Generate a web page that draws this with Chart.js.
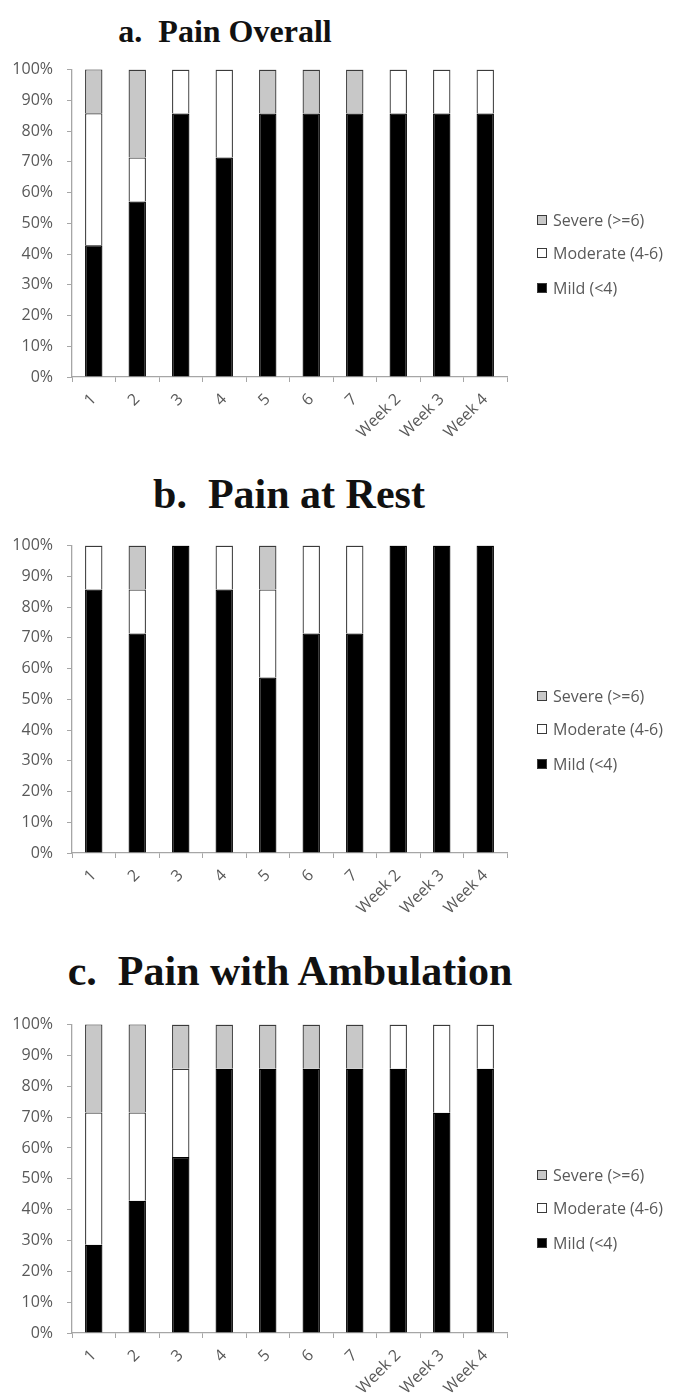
<!DOCTYPE html>
<html lang="en">
<head>
  <meta charset="UTF-8">
  <title>Pain scores by day</title>
  <script src="https://cdn.jsdelivr.net/npm/chart.js"></script>
  <style>
    body {
      margin: 0;
      padding: 0;
      background: #fff;
      overflow: hidden;
    }
    .page {
      position: relative;
      width: 673px;
      height: 1397px;
    }
    .panel {
      position: absolute;
      left: 0;
      width: 673px;
      height: 409px;
    }
    .title {
      position: absolute;
      width: 600px;
      text-align: center;
      font-family: "Liberation Serif", "Times New Roman", serif;
      font-weight: bold;
      color: #111;
      line-height: 1;
      white-space: pre;
    }
    .legend {
      position: absolute;
      left: 537px;
      font-family: "Open Sans", sans-serif;
      font-size: 16px;
      color: #595959;
    }
    .legend div {
      position: absolute;
      white-space: nowrap;
      line-height: 18px;
    }
    .legend span {
      display: inline-block;
      width: 8px;
      height: 8px;
      border: 1px solid #3a3a3a;
      margin-right: 6px;
      vertical-align: 1px;
    }
  </style>
</head>
<body>
  <div class="page">
    <div class="title" style="left:-75px; top:15px; font-size:32px;">a.  Pain Overall</div>
    <div class="panel" style="top:46px;"><canvas id="chartA"></canvas></div>
    <div class="legend" id="legendA" style="top:69px;"></div>

    <div class="title" style="left:-11px; top:473px; font-size:42px;">b.  Pain at Rest</div>
    <div class="panel" style="top:522px;"><canvas id="chartB"></canvas></div>
    <div class="legend" id="legendB" style="top:545px;"></div>

    <div class="title" style="left:-10px; top:950px; font-size:42px;">c.  Pain with Ambulation</div>
    <div class="panel" style="top:1001px; height:410px;"><canvas id="chartC"></canvas></div>
    <div class="legend" id="legendC" style="top:1024px;"></div>
  </div>

  <script>
    // Categories: post-op days 1-7, then weeks
    const days = ['1', '2', '3', '4', '5', '6', '7', 'Week 2', 'Week 3', 'Week 4'];

    // a. Pain Overall (% of patients)
    const overallMild     = [42.9, 57.1, 85.7, 71.4, 85.7, 85.7, 85.7, 85.7, 85.7, 85.7];
    const overallModerate = [42.9, 14.3, 14.3, 28.6, 0, 0, 0, 14.3, 14.3, 14.3];
    const overallSevere   = [14.3, 28.6, 0, 0, 14.3, 14.3, 14.3, 0, 0, 0];

    // b. Pain at Rest
    const restMild     = [85.7, 71.4, 100, 85.7, 57.1, 71.4, 71.4, 100, 100, 100];
    const restModerate = [14.3, 14.3, 0, 14.3, 28.6, 28.6, 28.6, 0, 0, 0];
    const restSevere   = [0, 14.3, 0, 0, 14.3, 0, 0, 0, 0, 0];

    // c. Pain with Ambulation
    const ambMild     = [28.6, 42.9, 57.1, 85.7, 85.7, 85.7, 85.7, 85.7, 71.4, 85.7];
    const ambModerate = [42.9, 28.6, 28.6, 0, 0, 0, 0, 14.3, 28.6, 14.3];
    const ambSevere   = [28.6, 28.6, 14.3, 14.3, 14.3, 14.3, 14.3, 0, 0, 0];

    const yTicks = [0, 10, 20, 30, 40, 50, 60, 70, 80, 90, 100];

    const seriesNames = ['Mild (<4)', 'Moderate (4-6)', 'Severe (>=6)'];
    const seriesColors = ['#000000', '#ffffff', '#c8c8c8'];

    Chart.defaults.font.family = "'Open Sans', sans-serif";
    Chart.defaults.color = '#595959';

    function makeChart(id, mild, moderate, severe) {
      const ctx = document.getElementById(id).getContext('2d');
      const values = [mild, moderate, severe];
      return new Chart(ctx, {
        type: 'bar',
        data: {
          labels: days,
          datasets: values.map(function (v, i) {
            return {
              label: seriesNames[i],
              data: v,
              backgroundColor: seriesColors[i],
              borderColor: i === 0 ? '#000000' : '#3a3a3a',
              borderWidth: 1.3,
              barPercentage: 0.4,
              categoryPercentage: 1
            };
          })
        },
        options: {
          responsive: true,
          maintainAspectRatio: false,
          animation: false,
          layout: {
            padding: { top: 5, right: 166, left: 0, bottom: 0 }
          },
          plugins: {
            legend: { display: false },
            tooltip: { enabled: false }
          },
          scales: {
            x: {
              stacked: true,
              afterFit: function (scale) { scale.height = 78; },
              border: { color: '#a6a6a6', width: 1.3 },
              grid: {
                drawOnChartArea: false,
                color: '#a6a6a6',
                tickLength: 5,
                offset: true
              },
              ticks: {
                autoSkip: false,
                maxRotation: 45,
                minRotation: 45,
                padding: 8,
                font: { size: 16 }
              }
            },
            y: {
              stacked: true,
              min: 0,
              max: 100,
              afterFit: function (scale) { scale.width = 72; },
              afterBuildTicks: function (scale) {
                scale.ticks = yTicks.map(function (v) { return { value: v }; });
              },
              border: { color: '#a6a6a6', width: 1.3 },
              grid: {
                drawOnChartArea: false,
                color: '#a6a6a6',
                tickLength: 5
              },
              ticks: {
                padding: 14,
                font: { size: 16 },
                callback: function (v) { return v + '%'; }
              }
            }
          }
        }
      });
    }

    // legend drawn as html, severe on top like the original
    function makeLegend(id) {
      const el = document.getElementById(id);
      const offsets = [219, 184, 151];
      for (let i = 2; i >= 0; i--) {
        const row = document.createElement('div');
        row.style.top = (offsets[i] - 9) + 'px';
        const box = document.createElement('span');
        box.style.background = seriesColors[i];
        row.appendChild(box);
        row.appendChild(document.createTextNode(seriesNames[i]));
        el.appendChild(row);
      }
    }

    makeChart('chartA', overallMild, overallModerate, overallSevere);
    makeChart('chartB', restMild, restModerate, restSevere);
    makeChart('chartC', ambMild, ambModerate, ambSevere);

    makeLegend('legendA');
    makeLegend('legendB');
    makeLegend('legendC');
  </script>
</body>
</html>
